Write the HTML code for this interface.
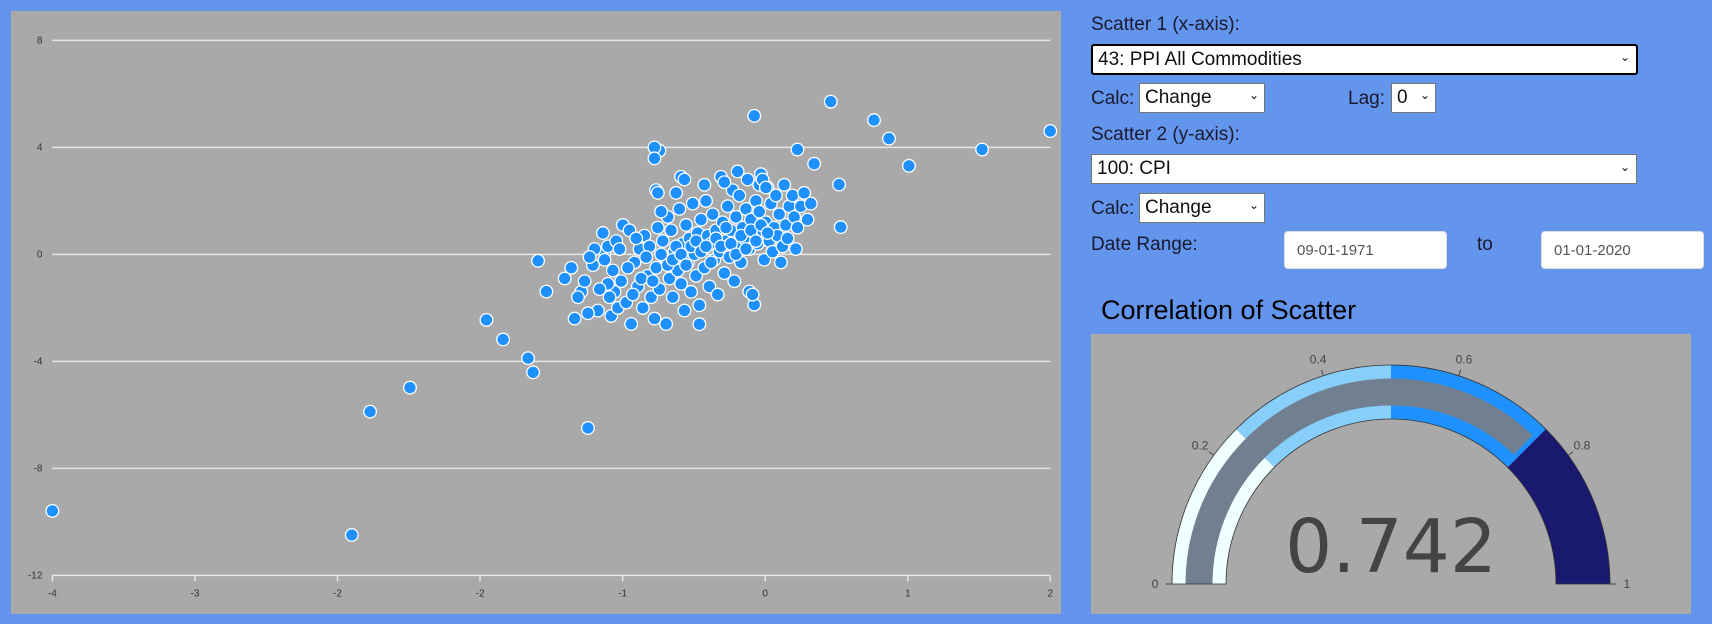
<!DOCTYPE html>
<html><head><meta charset="utf-8"><style>
body{margin:0;width:1712px;height:624px;background:#6495ed;font-family:"Liberation Sans",sans-serif;position:relative;overflow:hidden}
.lbl{position:absolute;font-size:19px;color:#1a1a2e;white-space:nowrap}
.sel{position:absolute;background:#fff;border:1px solid #767676;box-sizing:border-box;font-size:19px;color:#111;padding:0 0 0 5px;line-height:28px;font-family:"Liberation Sans",sans-serif;appearance:none;-webkit-appearance:none;border-radius:0}
.chev{position:absolute;font-size:12px;color:#111;pointer-events:none}
.inp{position:absolute;background:#fff;border:1px solid #ddd;border-radius:4px;box-sizing:border-box;font-size:15px;color:#555;padding-left:12px;font-family:"Liberation Sans",sans-serif}
</style></head><body>
<svg id="sc" width="1712" height="624" style="position:absolute;left:0;top:0">
<rect x="11" y="11" width="1050" height="603" fill="#a9a9a9"/>
</svg>

<div class="lbl" style="left:1091px;top:14px">Scatter 1 (x-axis):</div>
<select class="sel" style="left:1091px;top:44px;width:547px;height:31px;border:2px solid #000;border-radius:3px"><option>43: PPI All Commodities</option></select>
<span class="chev" style="left:1620px;top:50px">⌄</span>
<div class="lbl" style="left:1091px;top:88px">Calc:</div>
<select class="sel" style="left:1139px;top:83px;width:126px;height:30px"><option>Change</option></select>
<span class="chev" style="left:1249px;top:88px">⌄</span>
<div class="lbl" style="left:1348px;top:88px">Lag:</div>
<select class="sel" style="left:1391px;top:83px;width:45px;height:30px"><option>0</option></select>
<span class="chev" style="left:1420px;top:88px">⌄</span>
<div class="lbl" style="left:1091px;top:124px">Scatter 2 (y-axis):</div>
<select class="sel" style="left:1091px;top:154px;width:546px;height:30px"><option>100: CPI</option></select>
<span class="chev" style="left:1620px;top:160px">⌄</span>
<div class="lbl" style="left:1091px;top:198px">Calc:</div>
<select class="sel" style="left:1139px;top:193px;width:126px;height:30px"><option>Change</option></select>
<span class="chev" style="left:1249px;top:198px">⌄</span>
<div class="lbl" style="left:1091px;top:234px">Date Range:</div>
<input class="inp" value="09-01-1971" style="left:1284px;top:231px;width:163px;height:38px">
<div class="lbl" style="left:1477px;top:234px">to</div>
<input class="inp" value="01-01-2020" style="left:1541px;top:231px;width:163px;height:38px">
<div style="position:absolute;left:1101px;top:295px;font-size:27px;color:#000">Correlation of Scatter</div>

<script>
const xTickLabels=["-4","-3","-2","-2","-1","0","1","2"];
const yTicks=[8,4,0,-4,-8,-12];
const xs=[-4.00,-2.20,-2.09,-1.85,-1.39,-1.29,-1.14,-1.11,-0.78,-1.08,-1.03,0.22,0.68,0.94,1.03,1.15,1.59,2.00,0.73,0.74,0.58,0.48,-0.35,-0.38,-0.38,0.19,0.22,-0.11,
-0.64,-0.60,-0.62,-0.58,-0.63,-0.55,-0.52,-0.50,-0.48,-0.47,-0.45,-0.44,-0.42,-0.40,-0.41,-0.38,-0.37,-0.36,-0.35,-0.33,-0.32,-0.31,-0.30,-0.29,-0.28,-0.27,-0.26,-0.25,-0.24,-0.23,-0.22,-0.21,-0.20,-0.19,-0.18,-0.17,-0.16,-0.15,-0.14,-0.13,-0.12,-0.11,-0.10,-0.09,-0.08,-0.07,-0.06,-0.05,-0.04,-0.03,-0.02,-0.01,0.00,0.01,0.02,0.03,0.04,0.05,0.06,0.07,0.08,0.09,0.10,0.11,0.12,0.13,0.14,0.15,0.16,0.17,0.18,0.19,0.20,0.21,0.22,0.23,0.24,0.25,0.26,0.27,0.28,0.29,0.30,0.31,0.32,0.33,0.34,0.35,0.36,0.37,0.38,0.39,0.40,0.41,0.42,0.43,0.45,0.46,0.47,0.48,0.50,0.52,0.54,0.56,
-0.68,-0.68,-0.69,-0.66,-0.65,-0.66,-0.61,-0.59,-0.57,-0.54,-0.53,-0.51,-0.49,-0.46,-0.43,-0.39,-0.34,-0.30,-0.27,-0.25,-0.22,-0.19,-0.16,-0.13,-0.10,-0.07,-0.04,-0.01,0.02,0.05,0.08,0.11,0.14,0.17,0.20,0.23,0.26,0.30,-0.75,-0.74,-0.71,-0.72,-0.78,-0.82,-0.84,-0.88,-0.92,-0.77,-0.80,-0.86,
-0.37,-0.36,-0.34,-0.22,-0.20,-0.08,0.04,0.12,0.25,0.27,0.29];
const ys=[-9.59,-10.49,-5.88,-4.98,-2.45,-3.18,-3.88,-4.41,-6.49,-0.24,-1.39,5.18,5.71,5.02,4.33,3.31,3.92,4.61,2.61,1.02,3.39,3.92,3.88,4.00,3.59,-1.39,-1.88,-2.61,
-2.3,-2.0,-1.4,-1.0,-0.6,-1.8,-2.6,-0.3,-1.2,0.2,-2.0,0.7,-0.8,-1.6,0.3,-2.4,-0.5,1.0,-1.3,0.5,-0.1,-2.6,1.4,-0.9,0.9,-1.6,0.1,2.3,-0.6,1.7,-1.1,0.4,-2.1,1.1,-0.3,0.6,-1.4,1.9,0.0,-0.8,0.8,-1.9,1.3,0.2,-0.5,2.0,0.7,-1.2,0.4,1.5,-0.2,0.9,-1.5,0.1,2.9,1.2,-0.7,0.5,1.8,-0.1,0.9,2.4,-1.0,1.4,0.3,2.2,-0.3,1.0,0.6,1.7,2.8,0.2,1.3,-1.5,0.8,2.0,0.4,1.6,3.0,0.9,-0.2,1.2,2.5,0.5,1.9,0.1,1.0,2.2,0.7,1.5,-0.3,0.3,2.6,1.1,0.6,1.8,2.2,1.4,0.2,1.0,1.8,2.3,1.3,1.9,
0.1,-0.2,0.8,-1.1,-1.6,0.3,0.5,0.2,1.1,-0.5,0.9,-1.5,0.6,-0.9,-0.1,-1.0,0.0,-0.4,-0.2,0.3,0.0,-0.4,0.3,0.5,0.1,0.3,-0.3,0.6,0.3,1.0,0.4,0.0,0.7,0.2,0.9,0.5,1.1,0.8,-0.4,0.2,-1.3,-2.1,-2.2,-1.4,-1.6,-0.5,-0.9,-0.1,-1.0,-2.4,
2.4,2.3,1.6,2.9,2.8,2.6,2.7,3.1,2.6,2.8,2.5];
const gaugeValue=0.742;
const gaugeSteps=[0,0.25,0.5,0.75,1];
const gaugeColors=["#f0ffff","#87cefa","#1e90ff","#191970"];
const gaugeTicks=[0,0.2,0.4,0.6,0.8,1];

const NS="http://www.w3.org/2000/svg";
const svg=document.getElementById('sc');
function mk(t,a,p){const e=document.createElementNS(NS,t);for(const k in a)e.setAttribute(k,a[k]);(p||svg).appendChild(e);return e;}
const X0=52.4,X1=1050.3,Y0=40.4,Y1=575.4;
const xS=v=>X0+(v+4)/6*(X1-X0);
const yS=v=>Y0+(8-v)/20*(Y1-Y0);
yTicks.forEach(t=>{
  const l=mk('line',{x1:X0,x2:X1,y1:yS(t),y2:yS(t),stroke:'#e6e6e6','stroke-width':1.5});
  
  
  const tx=mk('text',{x:X0-10,y:yS(t)+3,'font-size':10,'text-anchor':'end',fill:'#333'});
  tx.textContent=t;
  
  
});
xTickLabels.forEach((lab,i)=>{
  const v=-4+i*6/7, x=xS(v);
  const tk=mk('line',{x1:x,x2:x,y1:Y1,y2:Y1+6,stroke:'#e6e6e6','stroke-width':1.5});
  
  
  const tx=mk('text',{x:x,y:Y1+21,'font-size':10,'text-anchor':'middle',fill:'#333'});
  tx.textContent=lab;
  
  
});
xs.forEach((v,i)=>{
  const c=mk('circle',{cx:xS(v),cy:yS(ys[i]),r:6.3,fill:'#1e90ff',stroke:'#fff','stroke-width':1.3});
  
  
});

// Gauge
const gp=mk('rect',{x:1091,y:334,width:600,height:280,fill:'#a9a9a9'});


const CX=1391,CY=584,R=219,r=165;
const pt=(v,rad)=>{const a=Math.PI*(1-v);return [CX+rad*Math.cos(a),CY-rad*Math.sin(a)];};
function arc(v0,v1,ro,ri){
  const a=pt(v0,ro),b=pt(v1,ro),c=pt(v1,ri),d=pt(v0,ri);
  return `M${a[0]},${a[1]} A${ro},${ro} 0 0 1 ${b[0]},${b[1]} L${c[0]},${c[1]} A${ri},${ri} 0 0 0 ${d[0]},${d[1]} Z`;
}
for(let i=0;i<gaugeColors.length;i++){
  const p=mk('path',{d:arc(gaugeSteps[i],gaugeSteps[i+1],R,r),fill:gaugeColors[i]});
  
  
}
const th=R-r;
const bar=mk('path',{d:arc(0,gaugeValue,R-th*0.25,r+th*0.25),fill:'#708090'});


const ol=mk('path',{d:arc(0,1,R,r),fill:'none',stroke:'#333','stroke-width':0.8});


gaugeTicks.forEach(t=>{
  const a=pt(t,R),b=pt(t,R+6),c=pt(t,R+17);
  const tk=mk('line',{x1:a[0],y1:a[1],x2:b[0],y2:b[1],stroke:'#444','stroke-width':1});
  
  
  const tx=mk('text',{x:c[0],y:c[1]+4,'font-size':12,'text-anchor':'middle',fill:'#444'});
  tx.textContent=String(t);
  
  
});
const vt=mk('text',{x:CX,y:572,'font-size':74,'text-anchor':'middle',fill:'#444','font-family':'"DejaVu Sans",sans-serif'});
vt.textContent=gaugeValue.toFixed(3);


</script>
</body></html>
